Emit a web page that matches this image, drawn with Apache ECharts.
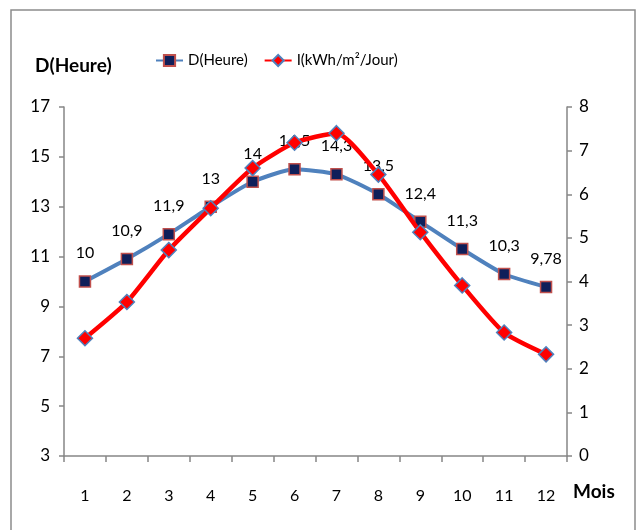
<!DOCTYPE html>
<html>
<head>
<meta charset="utf-8">
<script src="https://cdn.jsdelivr.net/npm/echarts@6/dist/echarts.min.js"></script>
<style>html,body{margin:0;padding:0;background:#fff}#c{width:638px;height:530px}</style>
</head>
<body>
<div id="c"></div>
<script>
const months = ['1','2','3','4','5','6','7','8','9','10','11','12'];
const dHeure = [10, 10.9, 11.9, 13, 14, 14.5, 14.3, 13.5, 12.4, 11.3, 10.3, 9.78];
const iKwh = [2.70, 3.53, 4.72, 5.68, 6.60, 7.18, 7.40, 6.45, 5.13, 3.91, 2.83, 2.33];
const leftTicks = {min: 3, max: 17, interval: 2};
const rightTicks = {min: 0, max: 8, interval: 1};
const seriesNames = ['D(Heure)', 'I(kWh/m²/Jour)'];

const FONT = 'Lato, "Noto Sans", sans-serif';
const chart = echarts.init(document.getElementById('c'), null, {renderer: 'canvas'});
const axisGray = '#868686';
chart.setOption({
  animation: false,
  backgroundColor: '#fff',
  textStyle: {fontFamily: FONT},
  graphic: [
    {type: 'rect', shape: {x: 11, y: 10, width: 624, height: 540}, style: {fill: 'none', stroke: '#8c8c8c', lineWidth: 1.5}},
    {type: 'text', left: 35, top: 56, style: {text: 'D(Heure)', font: 'bold 19px ' + FONT, fill: '#000'}},
    {type: 'text', left: 573, top: 482, style: {text: 'Mois', font: 'bold 19px ' + FONT, fill: '#000'}}
  ],
  legend: {
    top: 48, left: 150,
    itemGap: 16, itemWidth: 27, itemHeight: 14,
    textStyle: {fontFamily: FONT, fontSize: 15, color: '#000'},
    data: seriesNames
  },
  grid: {left: 64, right: 71, top: 107, bottom: 74},
  xAxis: {
    type: 'category', data: months, boundaryGap: true,
    axisLine: {lineStyle: {color: axisGray, width: 1.5}},
    axisTick: {show: true, length: 6, lineStyle: {color: axisGray, width: 1.5}},
    axisLabel: {color: '#000', fontSize: 16, margin: 32, fontFamily: FONT}
  },
  yAxis: [
    {type: 'value', min: leftTicks.min, max: leftTicks.max, interval: leftTicks.interval, position: 'left',
     splitLine: {show: false},
     axisLine: {show: true, lineStyle: {color: axisGray, width: 1.5}},
     axisTick: {show: true, length: 5, lineStyle: {color: axisGray, width: 1.5}},
     axisLabel: {color: '#000', fontSize: 17, margin: 14, fontFamily: FONT}},
    {type: 'value', min: rightTicks.min, max: rightTicks.max, interval: rightTicks.interval, position: 'right',
     splitLine: {show: false},
     axisLine: {show: true, lineStyle: {color: axisGray, width: 1.5}},
     axisTick: {show: true, length: 5, lineStyle: {color: axisGray, width: 1.5}},
     axisLabel: {color: '#000', fontSize: 17, margin: 12, fontFamily: FONT}}
  ],
  series: [
    {
      name: seriesNames[0], type: 'line', yAxisIndex: 0, data: dHeure,
      smooth: 0.2,
      lineStyle: {color: '#4F81BD', width: 4},
      symbol: 'rect', symbolSize: 11,
      itemStyle: {color: '#0F1F5A', borderColor: '#C0504D', borderWidth: 1.5},
      label: {show: true, position: 'top', distance: 14, color: '#000', fontSize: 16, fontFamily: FONT,
        formatter: p => String(p.value).replace('.', ',')},
      z: 2
    },
    {
      name: seriesNames[1], type: 'line', yAxisIndex: 1, data: iKwh,
      smooth: 0.2,
      lineStyle: {color: '#FF0000', width: 4.5},
      symbol: 'diamond', symbolSize: 15,
      itemStyle: {color: '#FF0000', borderColor: '#4F81BD', borderWidth: 1.5},
      z: 3
    }
  ]
});
</script>
</body>
</html>
